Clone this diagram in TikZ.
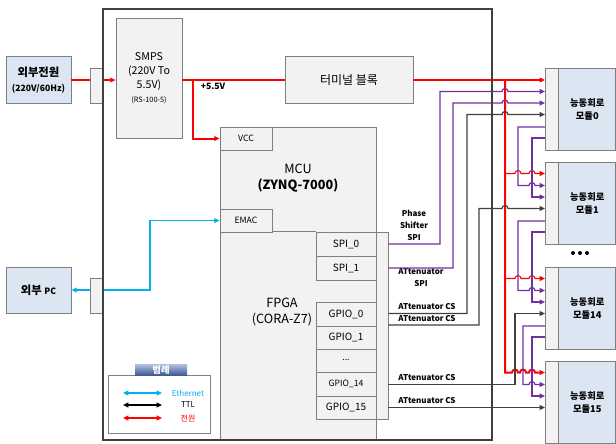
\documentclass[tikz,border=0pt]{standalone}
\usepackage{fontspec}
\setmainfont{Noto Sans CJK KR}
\usetikzlibrary{arrows.meta,calc}
\definecolor{boxfill}{HTML}{F2F2F2}
\definecolor{boxline}{HTML}{7F7F7F}
\definecolor{modfill}{HTML}{DCE6F2}
\definecolor{framecol}{HTML}{404040}
\definecolor{pwrred}{HTML}{FF0000}
\definecolor{spipurple}{HTML}{7030A0}
\definecolor{ttlgray}{HTML}{404040}
\definecolor{ethblue}{HTML}{00B0F0}
\definecolor{tabtop}{HTML}{B4C2E2}
\definecolor{tabbot}{HTML}{3F5A94}
\newcommand{\fs}[2]{\fontsize{#1}{#2}\selectfont}
\tikzset{
  sz/.style 2 args={minimum width=#1*0.75pt, minimum height=#2*0.75pt},
  box/.style={draw=boxline, fill=boxfill, line width=0.6pt, inner sep=0pt, align=center},
  modbox/.style={box, fill=modfill},
  pwr/.style={color=pwrred, line width=0.8pt},
  pwrmain/.style={color=pwrred, line width=1.5pt},
  spi/.style={color=spipurple, line width=0.9pt},
  ttl/.style={color=ttlgray, line width=0.9pt},
  eth/.style={color=ethblue, line width=1pt},
  sig/.style={font=\bfseries\fs{6}{9}, inner sep=0pt, align=center},
}
\begin{document}
\begin{tikzpicture}[x=0.75pt, y=-0.75pt, >={Triangle[length=4pt,width=3.6pt]}]
\useasboundingbox (0,0) rectangle (616,443);

% Externe blokken
\node[modbox, sz={65}{47}, font=\bfseries\fs{8.5}{11}] (extpwr) at (38.5,80) {외부전원\\{\fs{6.5}{8}(220V/60Hz)}};
\node[modbox, sz={65}{46}, font=\bfseries\fs{8.5}{11}] (extpc) at (38.5,290) {외부 {\fs{6.5}{8}PC}};

% Voeding
\node[box, sz={66}{120}, font=\fs{8}{10.5}] (smps) at (149,78) {SMPS\\(220V To\\5.5V)\\{\fs{5.5}{10.5}(RS-100-5)}};
\node[box, sz={128}{47}, font=\fs{9}{11}] (term) at (349,80) {터미널 블록};

% MCU / FPGA
\node[box, sz={72}{187}] (col) at (352,325.5) {};
\node[box, sz={156}{313}] (mcu) at (298,283.5) {};
\draw[boxline, line width=0.6pt] (mcu.west |- col.north) -- (col.north west);
\node[box, sz={52}{23}, font=\fs{6.5}{8}] (vcc) at (246,138.5) {VCC};
\node[box, sz={52}{23}, font=\fs{6.5}{8}] (emac) at (246,220.5) {EMAC};
\node[font=\fs{9.5}{12}, align=center] (mcut) at (298,178.5) {MCU\\\textbf{(ZYNQ-7000)}};
\node[font=\fs{9.5}{12}, align=center] (fpgat) at (282,312) {FPGA\\(CORA-Z7)};
\node[box, sz={60}{24}, font=\fs{7.5}{9}] (spi0) at (346,244) {SPI\_0};
\node[box, sz={60}{24}, font=\fs{7.5}{9}] (spi1) at (346,268) {SPI\_1};
\node[box, sz={60}{24}, font=\fs{7.5}{9}] (gpio0) at (346,314) {GPIO\_0};
\node[box, sz={60}{23}, font=\fs{7.5}{9}] (gpio1) at (346,337.5) {GPIO\_1};
\node[box, sz={60}{23}, font=\fs{6.5}{8}] (gdots) at (346,360.5) {...};
\node[box, sz={60}{24}, font=\fs{6.5}{8}] (gpio14) at (346,384) {GPIO\_14};
\node[box, sz={60}{23}, font=\fs{7.5}{9}] (gpio15) at (346,407.5) {GPIO\_15};

% Modules
\foreach \n/\top in {0/68,1/162,14/267,15/361}{
  \node[modbox, sz={70}{82}, anchor=north west] (m\n) at (545,\top) {};
  \node[box, sz={13}{82}, anchor=north west] (ms\n) at (545,\top) {};
  \node[font=\bfseries\fs{7}{9.5}, align=center] (mt\n) at ($(ms\n.east)!0.5!(m\n.east)$) {능동회로\\모듈\n};
}
\foreach \dx in {-7,0,7}
  \fill (580+\dx,253) circle (1.5pt);

% Labels
\node[sig, font=\bfseries\fs{6.5}{8}] (v55) at (213,86.5) {+5.5V};
\node[sig] (lblps) at (414,225) {Phase\\Shifter\\SPI};
\node[sig] (lblas) at (421,278) {ATtenuator\\SPI};
\node[sig] (lblcs0) at (427,307) {ATtenuator CS};
\node[sig] (lblcs1) at (427,319) {ATtenuator CS};
\node[sig] (lblcs14) at (427,377.5) {ATtenuator CS};
\node[sig] (lblcs15) at (427,401) {ATtenuator CS};

% Voedingslijnen
\draw[pwr,->] (extpwr.east) -- (extpwr.east -| smps.west);
\draw[pwrmain] (smps.east |- term.west) -- (term.west);
\coordinate (vsplit) at (193,80);
\draw[pwrmain,->] (vsplit) -- (vsplit |- vcc.west) -- (vcc.west);
\draw[pwrmain,->] (term.east) -- (term.east -| m0.west);
\coordinate (vbus) at (505,80);
\draw[pwrmain,->] (vbus) -- (505,372.5) -- (512,372.5) arc (180:0:2.25pt) -- (520,372.5) arc (180:0:2.25pt)
  -- (529,372.5) arc (180:0:2.25pt) -- (m15.west |- 0,372.5);
\draw[pwr,->] (505,173.5) -- (515,173.5) arc (180:0:2.25pt) -- (529,173.5) arc (180:0:2.25pt) -- (m1.west |- 0,173.5);
\draw[pwr,->] (505,278.5) -- (515,278.5) arc (180:0:2.25pt) -- (529,278.5) arc (180:0:2.25pt) -- (m14.west |- 0,278.5);

% SPI lijnen
\draw[spi,->] (col.east |- spi0) -- (440,244) -- (440,91.5) -- (502,91.5) arc (180:0:2.25pt) -- (m0.west |- 0,91.5);
\draw[spi,->] (col.east |- spi1) -- (453,268) -- (453,103) -- (502,103) arc (180:0:2.25pt) -- (m0.west |- 0,103);
\draw[spi,->] (m0.west |- 0,127) -- (518,127) -- (518,185.5) -- (529,185.5) arc (180:0:2.25pt) -- (m1.west |- 0,185.5);
\draw[spi,->] (m0.west |- 0,138) -- (532,138) -- (532,197) -- (m1.west |- 0,197);
\draw[spi,->] (m1.west |- 0,221) -- (518,221) -- (518,290.5) -- (529,290.5) arc (180:0:2.25pt) -- (m14.west |- 0,290.5);
\draw[spi,->] (m1.west |- 0,232) -- (532,232) -- (532,302) -- (m14.west |- 0,302);
\draw[spi,->] (m14.west |- 0,326) -- (523,326) -- (523,384.5) -- (529,384.5) arc (180:0:2.25pt) -- (m15.west |- 0,384.5);
\draw[spi,->] (m14.west |- 0,337) -- (532,337) -- (532,396) -- (m15.west |- 0,396);

% TTL lijnen
\draw[ttl,->] (col.east |- 0,313.5) -- (467,313.5) -- (467,114.5) -- (502,114.5) arc (180:0:2.25pt) -- (m0.west |- 0,114.5);
\draw[ttl,->] (col.east |- 0,325) -- (479,325) -- (479,208.5) -- (502,208.5) arc (180:0:2.25pt) -- (m1.west |- 0,208.5);
\draw[ttl,->] (col.east |- 0,384.5) -- (515,384.5) -- (515,313.5) -- (m14.west |- 0,313.5);
\draw[ttl,->] (col.east |- gpio15) -- (m15.west |- gpio15);

% Ethernet
\draw[eth,<->] (extpc.east) -- (150,290) -- (150,220.5) -- (emac.west);

% Connectoren
\node[box, sz={13}{35}] (pin1) at (96.5,85.5) {};
\node[box, sz={13}{35}] (pin2) at (96.5,295.5) {};

% Legenda
\node[draw=boxline, fill=white, line width=0.6pt, sz={102}{58}] (legend) at (159,404) {};
\node[sz={52}{11}, top color=tabtop, bottom color=tabbot, text=white, inner sep=0pt, font=\bfseries\fs{7}{8}] (legtab) at (161,369.5) {범례};
\coordinate (lea) at (123,393); \coordinate (leb) at (162,393);
\coordinate (lta) at (123,405); \coordinate (ltb) at (162,405);
\coordinate (lpa) at (123,418); \coordinate (lpb) at (162,418);
\draw[eth,<->] (lea) -- (leb);
\draw[black,line width=1pt,<->] (lta) -- (ltb);
\draw[pwrred,line width=1pt,<->] (lpa) -- (lpb);
\node[font=\fs{6}{7}, text=ethblue] (lblet) at (188,393) {Ethernet};
\node[font=\fs{6}{7}] (lblttl) at (188,405) {TTL};
\node[font=\fs{6}{7}, text=pwrred] (lblpw) at (188,418) {전원};

% Kader
\node[draw=framecol, line width=1.6pt, sz={389}{431}] (frame) at (297.5,224.5) {};
\end{tikzpicture}
\end{document}
